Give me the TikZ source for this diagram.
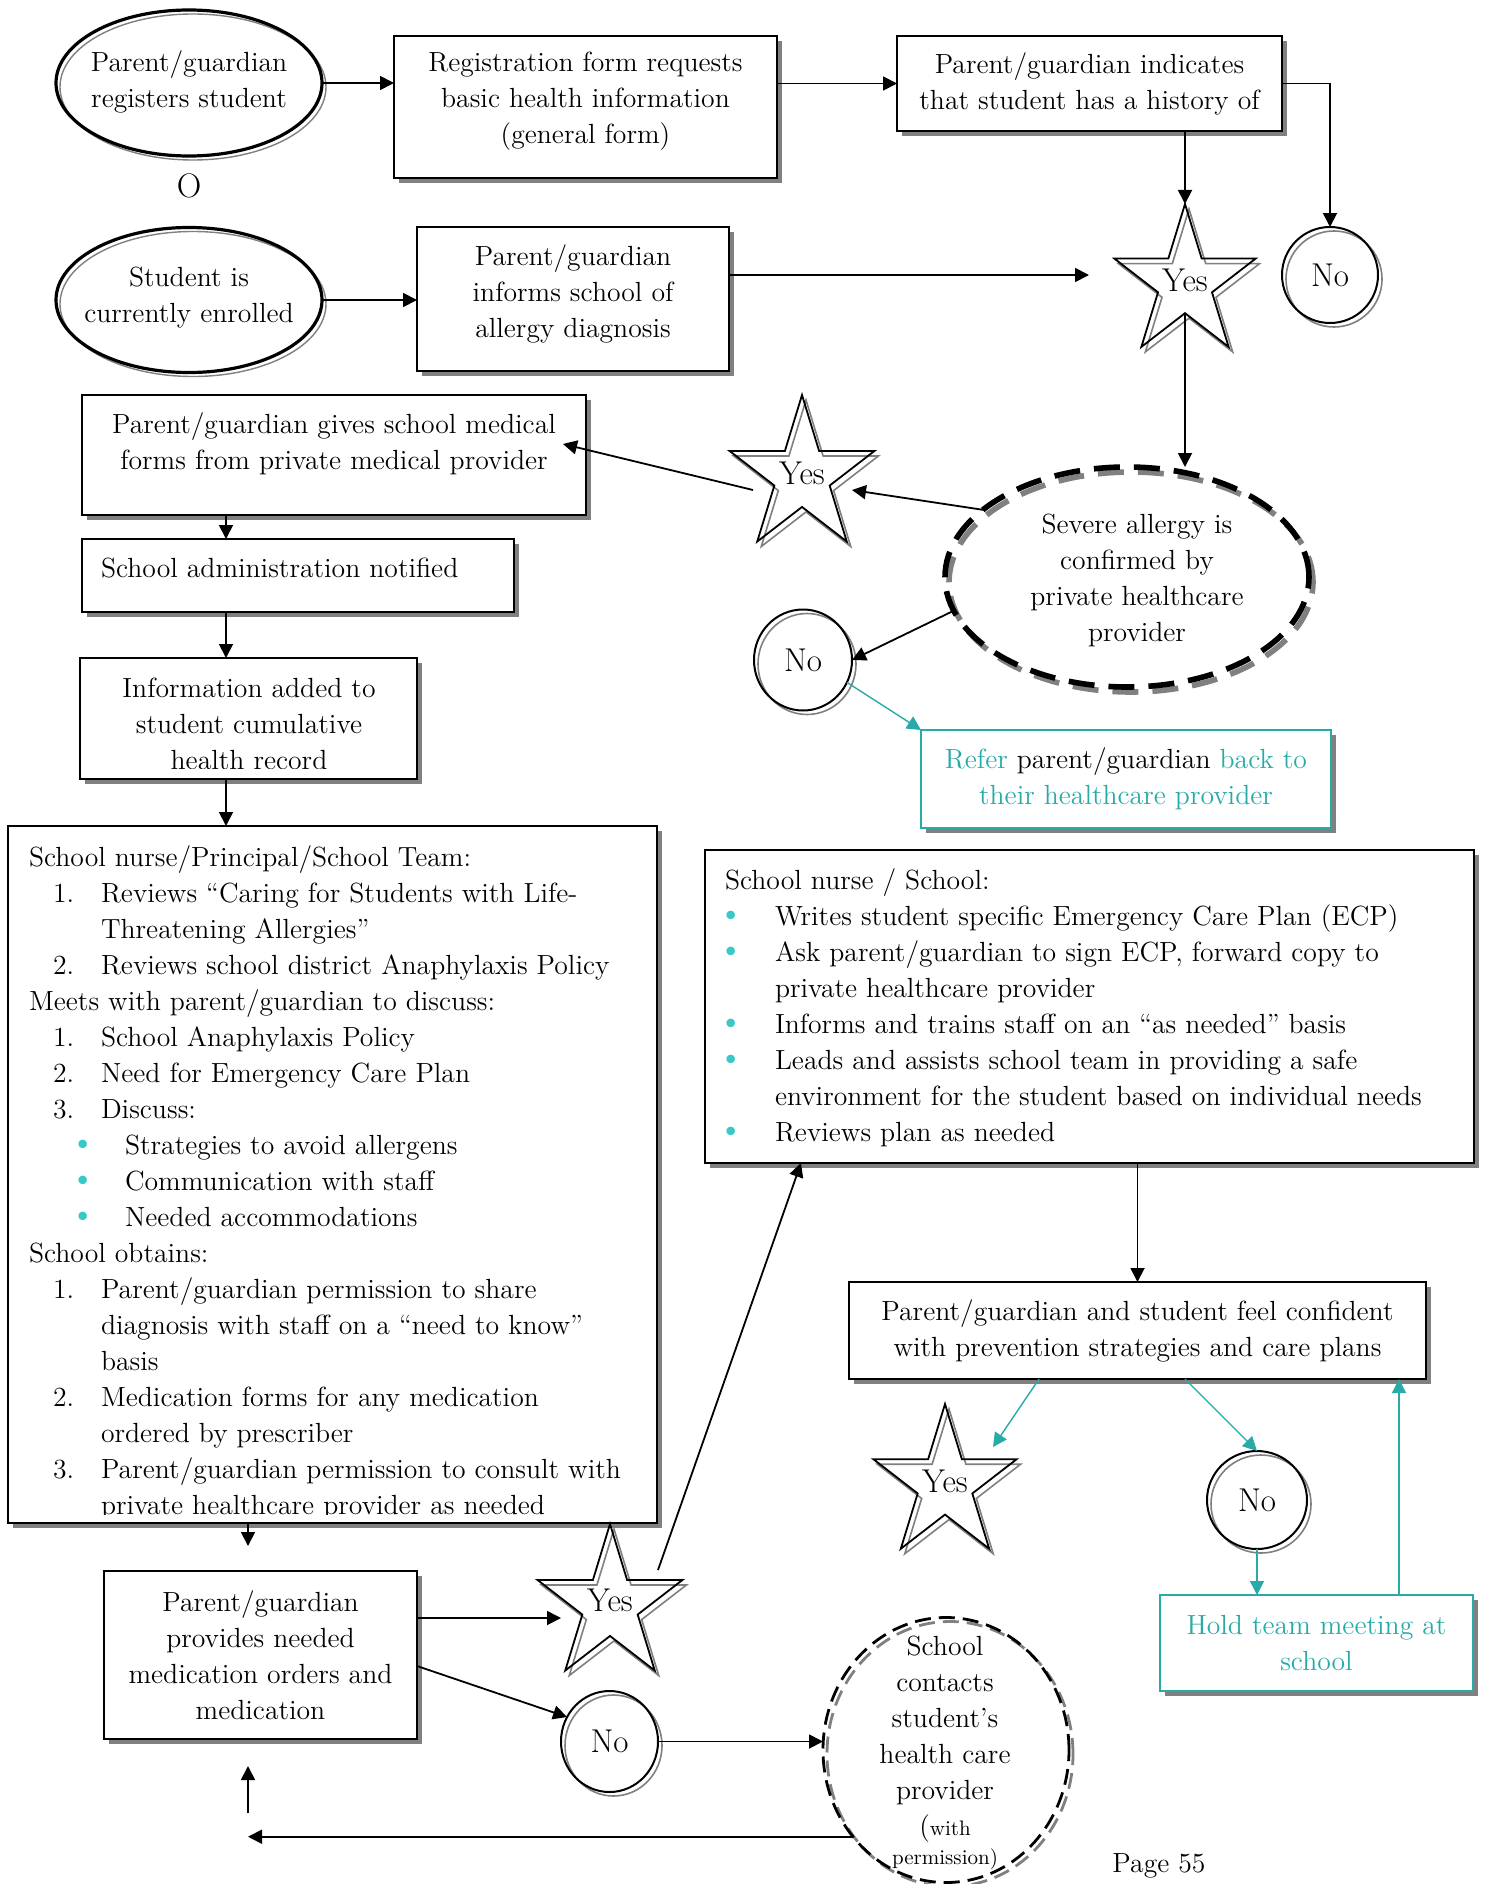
\documentclass[tikz,border=0pt]{standalone}
\usetikzlibrary{shapes.geometric,arrows.meta,shadows,calc}
\definecolor{mycyan}{RGB}{40,170,168}
\definecolor{bulc}{RGB}{55,200,200}
\definecolor{shgray}{RGB}{128,128,128}
\begin{document}
\begin{tikzpicture}[x=0.5pt,y=-0.5pt,
 every node/.style={inner sep=0pt, outer sep=0pt, font=\fontsize{13.85pt}{18pt}\selectfont},
 box/.style={rectangle, draw=black, line width=1pt, fill=white, align=center,
   drop shadow={shadow xshift=2.5pt, shadow yshift=-2.5pt, fill=shgray, opacity=1}},
 tbox/.style={box, draw=mycyan, text=mycyan},
 ell/.style={ellipse, draw=black, line width=1.6pt},
 ellg/.style={ellipse, draw=shgray, line width=0.7pt},
 circ/.style={ellipse, draw=black, line width=1pt},
 circg/.style={ellipse, draw=shgray, line width=0.8pt},
 starb/.style={star, star points=5, star point ratio=2.618, draw=black, line width=0.9pt, minimum size=#1, transform shape},
 starg/.style={star, star points=5, star point ratio=2.618, draw=shgray, line width=0.8pt, minimum size=#1, transform shape},
 dashA/.style={ellipse, draw=black, line width=2.8pt, dash pattern=on 13pt off 7pt},
 dashAg/.style={ellipse, draw=shgray, line width=2.8pt, dash pattern=on 13pt off 7pt},
 dashB/.style={ellipse, draw=black, line width=1.4pt, dash pattern=on 8pt off 4pt},
 dashBg/.style={ellipse, draw=shgray, line width=1.4pt, dash pattern=on 8pt off 4pt},
 conn/.style={line width=0.9pt, -{Triangle[length=7pt,width=7pt]}},
 tconn/.style={line width=0.7pt, draw=mycyan, -{Triangle[length=7pt,width=7pt]}},
 lt/.style={anchor=base west},
 lc/.style={anchor=base},
 bul/.style={anchor=base, text=bulc, font=\fontsize{19pt}{20pt}\selectfont},
 yn/.style={font=\fontsize{16.5pt}{20pt}\selectfont},
]
\fill[white] (0,0) rectangle (1487,1884);
\useasboundingbox (0,0) rectangle (1487,1884);

% helper coordinates
\coordinate (colx) at (226,0);
\coordinate (colm) at (248,0);
\coordinate (colt) at (1399,0);
\coordinate (a5e) at (1089,275);
\coordinate (la) at (248,1546);
\coordinate (ua1) at (248,1813);
\coordinate (ua2) at (248,1766);

% top ellipses
\node[ellg, minimum width=133pt, minimum height=73pt] (E1g) at (193,87) {};
\node[ell, minimum width=133pt, minimum height=73pt] (E1) at (189,83) {};
\node[align=center] (E1t) at (189,82) {Parent/guardian\\registers student};
\node[font=\fontsize{17pt}{20pt}\selectfont] (orr) at (189,186) {O};
\node[ellg, minimum width=133pt, minimum height=72.5pt] (E2g) at (193,304) {};
\node[ell, minimum width=133pt, minimum height=72.5pt] (E2) at (189,300) {};
\node[align=center] (E2t) at (189,298) {Student is\\currently enrolled};

% top boxes
\node[box, minimum width=191.5pt, minimum height=71pt] (Reg) at (585.5,107) {};
\node[align=center] (RegT) at (585.5,101) {Registration form requests\\basic health information\\(general form)};
\node[box, minimum width=192.5pt, minimum height=47.5pt] (Ind) at (1089.5,83.5) {Parent/guardian indicates\\that student has a history of};
\node[box, minimum width=156pt, minimum height=72pt] (Inf) at (573,299) {};
\node[align=center] (InfT) at (573,294) {Parent/guardian\\informs school of\\allergy diagnosis};

% star / no top right
\begin{scope}[shift={(1189,288)}, xscale=0.94]
\node[starg=79pt] (S1g) at (0,0) {};
\end{scope}
\begin{scope}[shift={(1185,283)}, xscale=0.94]
\node[starb=79pt] (S1) at (0,0) {};
\end{scope}
\node[yn] (S1t) at (1185,280) {Yes};
\node[circg, minimum width=48pt, minimum height=48pt] (N1g) at (1334,279) {};
\node[circ, yn, minimum width=48pt, minimum height=48pt] (N1) at (1330,275) {No};

% severe allergy dashed ellipse
\node[dashAg, minimum width=182pt, minimum height=110pt] (D1g) at (1131,582) {};
\node[dashA, minimum width=182pt, minimum height=110pt] (D1) at (1127,577) {};
\node[align=center] (D1t) at (1137,580) {Severe allergy is\\confirmed by\\private healthcare\\provider};

% middle star
\begin{scope}[shift={(806,481)}, xscale=0.94]
\node[starg=81pt] (S2g) at (0,0) {};
\end{scope}
\begin{scope}[shift={(802,476)}, xscale=0.94]
\node[starb=81pt] (S2) at (0,0) {};
\end{scope}
\node[yn] (S2t) at (802,473) {Yes};

% left column boxes
\node[box, minimum width=252pt, minimum height=60pt] (G) at (334,455) {};
\node[lc] (Gt1) at (334,433) {Parent/guardian gives school medical};
\node[lc] (Gt2) at (334,469) {forms from private medical provider};

\node[box, minimum width=216pt, minimum height=36.5pt] (A) at (298,575.5) {};
\node[lt] (At) at (101,577) {School administration notified};

\node[box, minimum width=168.5pt, minimum height=60.5pt] (H) at (248.5,718.5) {};
\begin{scope}
\clip (80,658) rectangle (417,768);
\node[lc] (Ht1) at (249,697) {Information added to};
\node[lc] (Ht2) at (249,733) {student cumulative};
\node[lc] (Ht3) at (249,769) {health record};
\end{scope}

% middle No
\node[circg, minimum width=49pt, minimum height=50.5pt] (N2g) at (807,664) {};
\node[circ, yn, minimum width=49pt, minimum height=50.5pt] (N2) at (803,660) {No};

% refer box
\node[tbox, minimum width=205pt, minimum height=49pt] (R) at (1126,779) {Refer \textcolor{black}{parent/guardian} back to\\their healthcare provider};

% big left box
\node[box, minimum width=324.5pt, minimum height=348.5pt] (L) at (332.5,1174.5) {};
\begin{scope}
\clip (8,826) rectangle (657,1514);
\node[lt] (l0) at (29,866) {School nurse/Principal/School Team:};
\node[lt] (n1) at (53,902) {1.};
\node[lt] (l1) at (101,902) {Reviews “Caring for Students with Life-};
\node[lt] (l2) at (101,938) {Threatening Allergies”};
\node[lt] (n3) at (53,974) {2.};
\node[lt] (l3) at (101,974) {Reviews school district Anaphylaxis Policy};
\node[lt] (l4) at (29,1010) {Meets with parent/guardian to discuss:};
\node[lt] (n5) at (53,1046) {1.};
\node[lt] (l5) at (101,1046) {School Anaphylaxis Policy};
\node[lt] (n6) at (53,1082) {2.};
\node[lt] (l6) at (101,1082) {Need for Emergency Care Plan};
\node[lt] (n7) at (53,1118) {3.};
\node[lt] (l7) at (101,1118) {Discuss:};
\node[bul] (b8) at (83,1154) {\textbullet};
\node[lt] (l8) at (125,1154) {Strategies to avoid allergens};
\node[bul] (b9) at (83,1190) {\textbullet};
\node[lt] (l9) at (125,1190) {Communication with staff};
\node[bul] (b10) at (83,1226) {\textbullet};
\node[lt] (l10) at (125,1226) {Needed accommodations};
\node[lt] (l11) at (29,1262) {School obtains:};
\node[lt] (n12) at (53,1298) {1.};
\node[lt] (l12) at (101,1298) {Parent/guardian permission to share};
\node[lt] (l13) at (101,1334) {diagnosis with staff on a “need to know”};
\node[lt] (l14) at (101,1370) {basis};
\node[lt] (n15) at (53,1406) {2.};
\node[lt] (l15) at (101,1406) {Medication forms for any medication};
\node[lt] (l16) at (101,1442) {ordered by prescriber};
\node[lt] (n17) at (53,1478) {3.};
\node[lt] (l17) at (101,1478) {Parent/guardian permission to consult with};
\node[lt] (l18) at (101,1514) {private healthcare provider as needed};
\end{scope}

% big right box
\node[box, minimum width=384.5pt, minimum height=156.5pt] (B) at (1089.5,1006.5) {};
\node[lt] (r0) at (725,889) {School nurse / School:};
\node[bul] (rb1) at (731,925) {\textbullet};
\node[lt] (r1) at (775,925) {Writes student specific Emergency Care Plan (ECP)};
\node[bul] (rb2) at (731,961) {\textbullet};
\node[lt] (r2) at (775,961) {Ask parent/guardian to sign ECP, forward copy to};
\node[lt] (r3) at (775,997) {private healthcare provider};
\node[bul] (rb4) at (731,1033) {\textbullet};
\node[lt] (r4) at (775,1033) {Informs and trains staff on an “as needed” basis};
\node[bul] (rb5) at (731,1069) {\textbullet};
\node[lt] (r5) at (775,1069) {Leads and assists school team in providing a safe};
\node[lt] (r6) at (775,1105) {environment for the student based on individual needs};
\node[bul] (rb7) at (731,1141) {\textbullet};
\node[lt] (r7) at (775,1141) {Reviews plan as needed};

% confident box
\node[box, minimum width=288.5pt, minimum height=48.5pt] (C) at (1137.5,1330.5) {Parent/guardian and student feel confident\\with prevention strategies and care plans};

% lower right star / no / hold
\begin{scope}[shift={(949,1489)}, xscale=0.94]
\node[starg=80pt] (S3g) at (0,0) {};
\end{scope}
\begin{scope}[shift={(945,1484)}, xscale=0.94]
\node[starb=80pt] (S3) at (0,0) {};
\end{scope}
\node[yn] (S3t) at (945,1481) {Yes};
\node[circg, minimum width=50pt, minimum height=49pt] (N3g) at (1261,1504) {};
\node[circ, yn, minimum width=50pt, minimum height=49pt] (N3) at (1257,1500) {No};
\node[tbox, minimum width=156.5pt, minimum height=48pt] (T) at (1316.5,1643) {Hold team meeting at\\school};

% bottom left
\node[box, minimum width=156.5pt, minimum height=84pt] (M) at (260.5,1655) {Parent/guardian\\provides needed\\medication orders and\\medication};
\begin{scope}[shift={(614,1610)}, xscale=0.94]
\node[starg=81pt] (S4g) at (0,0) {};
\end{scope}
\begin{scope}[shift={(610,1605)}, xscale=0.94]
\node[starb=81pt] (S4) at (0,0) {};
\end{scope}
\node[yn] (S4t) at (610,1600) {Yes};
\node[circg, minimum width=48.5pt, minimum height=50.5pt] (N4g) at (613.5,1745.5) {};
\node[circ, yn, minimum width=48.5pt, minimum height=50.5pt] (N4) at (609.5,1741.5) {No};

% school contacts dashed ellipse
\node[dashBg, minimum width=123pt, minimum height=132.5pt] (D2g) at (950,1754) {};
\node[dashB, minimum width=123pt, minimum height=132.5pt] (D2) at (946,1750) {};
\node[align=center] (D2t) at (945,1720) {School\\contacts\\student’s\\health care\\provider};
\node[lc] (D2a) at (945,1835) {({\fontsize{10.5pt}{12pt}\selectfont with}};
\node[lc, font=\fontsize{10.5pt}{12pt}\selectfont] (D2b) at (945,1864) {permission)};

\node[lc] (pg) at (1159,1872) {Page 55};

% connectors
\coordinate (s4in) at ($(S4.center)+(-49,13)$);
\draw[conn] (E1.east) -- (E1.east -| Reg.west);
\draw[conn] (Ind.west -| Reg.east) -- (Ind.west);
\draw[conn] (Ind.south -| S1.north) -- (S1.north);
\draw[conn] (Ind.east) -| (N1.north);
\draw[conn] (Inf.east |- a5e) -- (a5e);
\draw[conn] (E2.east) -- (E2.east -| Inf.west);
\draw[conn] (S1.south) -- (S1.south |- D1.north);
\draw[conn] (D1.155) -- ($(S2.center)+(50,14)$);
\draw[conn] ($(S2.center)+(-49,14)$) -- ($(G.east)+(-23,-11)$);
\draw[conn] (G.south -| colx) -- (A.north -| colx);
\draw[conn] (A.south -| colx) -- (H.north -| colx);
\draw[conn] (H.south -| colx) -- (L.north -| colx);
\draw[conn] (D1.191) -- (N2.east);
\draw[tconn] (N2.-27) -- (R.north west);
\draw[conn] (B.south -| C.north) -- (C.north);
\draw[tconn] ($(C.south west)+(190,0)$) -- ($(S3.center)+(48,-37)$);
\draw[tconn] ($(C.south west)+(336,0)$) -- (N3.north);
\draw[tconn] (N3.south) -- (N3.south |- T.north);
\draw[tconn] (T.north -| colt) -- (C.south -| colt);
\draw[conn] (L.south -| colm) -- (la);
\draw[conn] (M.east |- s4in) -- (s4in);
\draw[conn] ($(S4.center)+(48,-35)$) -- ($(B.south west)+(96,0)$);
\draw[conn] ($(M.east)+(0,11)$) -- (N4.150);
\draw[conn] (N4.east) -- (N4.east -| D2.west);
\draw[conn] (D2.223) -- (D2.223 -| colm);
\draw[conn] (ua1) -- (ua2);
\end{tikzpicture}
\end{document}
